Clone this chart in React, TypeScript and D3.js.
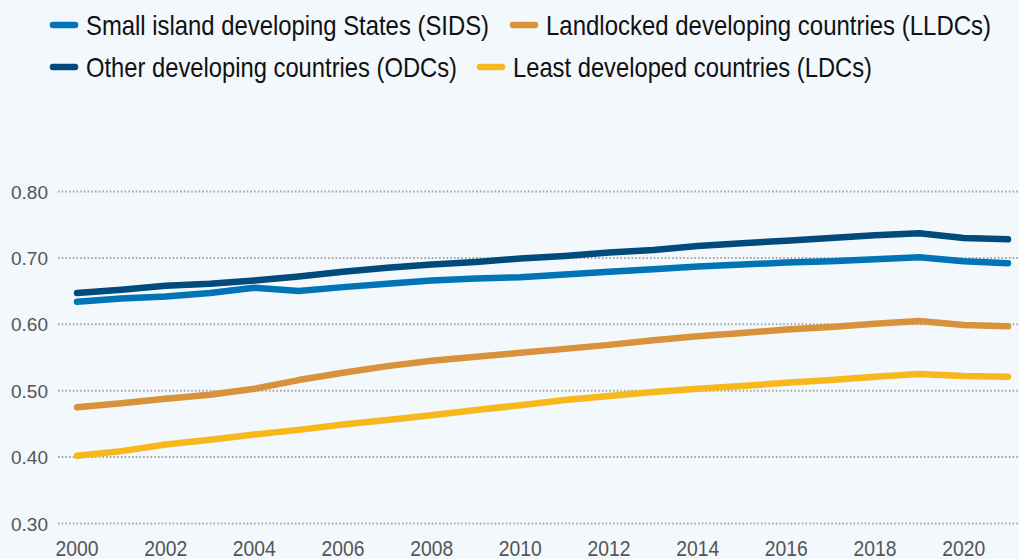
import React from "react";
import * as d3 from "d3";

const years = d3.range(2000, 2022);
const sids = [0.634, 0.639, 0.642, 0.647, 0.655, 0.650, 0.656, 0.661, 0.666, 0.669, 0.671, 0.675, 0.679, 0.683, 0.687, 0.690, 0.693, 0.695, 0.698, 0.701, 0.695, 0.692];
const odcs = [0.647, 0.652, 0.658, 0.661, 0.666, 0.672, 0.679, 0.685, 0.690, 0.694, 0.699, 0.703, 0.708, 0.712, 0.718, 0.722, 0.726, 0.730, 0.734, 0.737, 0.730, 0.728];
const lldcs = [0.475, 0.481, 0.488, 0.494, 0.503, 0.516, 0.527, 0.537, 0.545, 0.551, 0.557, 0.563, 0.569, 0.576, 0.582, 0.587, 0.592, 0.596, 0.601, 0.605, 0.599, 0.597];
const ldcs = [0.402, 0.409, 0.419, 0.426, 0.434, 0.441, 0.449, 0.456, 0.463, 0.471, 0.478, 0.486, 0.492, 0.498, 0.503, 0.507, 0.512, 0.516, 0.521, 0.525, 0.522, 0.521];
const yTicks = [0.3, 0.4, 0.5, 0.6, 0.7, 0.8];
const xTicks = [2000, 2002, 2004, 2006, 2008, 2010, 2012, 2014, 2016, 2018, 2020];

const series = [
  { name: "Small island developing States (SIDS)", values: sids, color: "#0074b7" },
  { name: "Other developing countries (ODCs)", values: odcs, color: "#004a7c" },
  { name: "Landlocked developing countries (LLDCs)", values: lldcs, color: "#d89239" },
  { name: "Least developed countries (LDCs)", values: ldcs, color: "#f7b81c" },
];

const legendItems = [
  { s: 0, x: 50, y: 25, w: 403 },
  { s: 2, x: 510, y: 25, w: 445 },
  { s: 1, x: 50, y: 67, w: 371 },
  { s: 3, x: 477, y: 67, w: 359 },
];

const W = 1019;
const H = 559;
const font = "'Liberation Sans', Arial, Helvetica, sans-serif";

export default function App() {
  const x = d3.scaleLinear().domain([2000, 2021]).range([77, 1008]);
  const y = d3.scaleLinear().domain([0.3, 0.8]).range([523.5, 191.5]);
  const line = d3
    .line<number>()
    .x((_, i) => x(years[i]))
    .y((d) => y(d));

  return (
    <svg width={W} height={H} style={{ position: "absolute", left: 0, top: 0, background: "#f3f8fc" }}>
      <rect width={W} height={H} fill="#f3f8fc" />
      {yTicks.map((t) => (
        <g key={t}>
          <line x1={58} x2={W} y1={y(t)} y2={y(t)} stroke="#a6a6a6" strokeWidth={2} strokeDasharray="1.6 2.1" />
          <text
            x={48}
            y={y(t) + 7}
            textAnchor="end"
            fontFamily={font}
            fontSize={19}
            fill="#555"
            textLength={37}
            lengthAdjust="spacingAndGlyphs"
          >
            {t.toFixed(2)}
          </text>
        </g>
      ))}
      {xTicks.map((t) => (
        <text
          key={t}
          x={x(t)}
          y={555.5}
          textAnchor="middle"
          fontFamily={font}
          fontSize={22}
          fill="#555"
          textLength={43}
          lengthAdjust="spacingAndGlyphs"
        >
          {t}
        </text>
      ))}
      {[2, 3, 0, 1].map((i) => (
        <path
          key={i}
          d={line(series[i].values) || ""}
          fill="none"
          stroke={series[i].color}
          strokeWidth={6.5}
          strokeLinecap="round"
          strokeLinejoin="round"
        />
      ))}
      {legendItems.map((it) => (
        <g key={it.s}>
          <line x1={it.x + 3} x2={it.x + 25} y1={it.y} y2={it.y} stroke={series[it.s].color} strokeWidth={6.5} strokeLinecap="round" />
          <text
            x={it.x + 36}
            y={it.y + 10}
            fontFamily={font}
            fontSize={28.5}
            fill="#111"
            textLength={it.w}
            lengthAdjust="spacingAndGlyphs"
          >
            {series[it.s].name}
          </text>
        </g>
      ))}
    </svg>
  );
}
